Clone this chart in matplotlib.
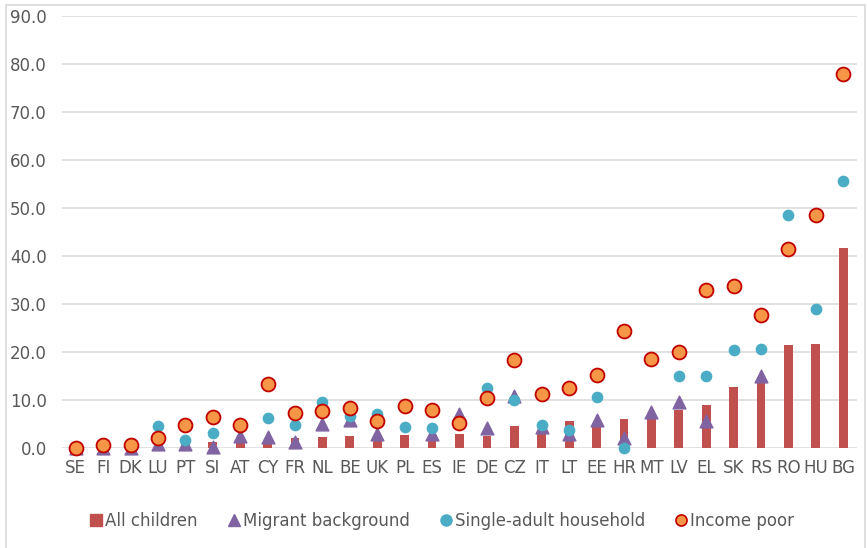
import matplotlib.pyplot as plt
import numpy as np
from matplotlib.lines import Line2D
from matplotlib.patches import Rectangle

nan = np.nan

countries = ["SE", "FI", "DK", "LU", "PT", "SI", "AT", "CY", "FR", "NL",
             "BE", "UK", "PL", "ES", "IE", "DE", "CZ", "IT", "LT", "EE",
             "HR", "MT", "LV", "EL", "SK", "RS", "RO", "HU", "BG"]
all_children = [0.1, 0.1, 0.2, 1.0, 1.0, 1.3, 1.6, 1.1, 2.0, 2.3,
                2.6, 2.0, 2.7, 2.5, 3.0, 2.5, 4.6, 3.3, 5.6, 4.8,
                6.1, 6.3, 7.9, 9.0, 12.7, 14.0, 21.4, 21.7, 41.7]
migrant = [0.0, 0.0, 0.0, 0.8, 0.8, 0.3, 2.6, 2.2, 1.2, 5.1,
           5.8, 2.9, nan, 3.0, 7.1, 4.1, 10.8, 4.4, 3.0, 5.8,
           2.0, 7.6, 9.5, 5.6, nan, 15.0, nan, nan, nan]
single_adult = [0.0, 0.2, 0.2, 4.5, 1.7, 3.2, nan, 6.3, 4.7, 9.6,
                6.7, 7.0, 4.4, 4.1, nan, 12.4, 10.0, 4.8, 3.8, 10.6,
                0.0, nan, 15.0, 15.0, 20.5, 20.7, 48.5, 29.0, 55.6]
income_poor = [0.0, 0.6, 0.6, 2.1, 4.7, 6.45, 4.8, 13.3, 7.2, 7.8,
               8.25, 5.6, 8.7, 7.9, 5.2, 10.5, 18.3, 11.2, 12.4, 15.2,
               24.4, 18.5, 20.1, 32.9, 33.8, 27.8, 41.4, 48.5, 78.0]

plt.rcParams['font.family'] = ['DejaVu Sans']
grey = '#595959'

fig = plt.figure(figsize=(8.67, 5.48), dpi=100)
ax = fig.add_axes([62 / 867, 1 - 448 / 548, 795 / 867, 432 / 548])

x = np.arange(len(countries))
ax.bar(x, all_children, width=0.32, color='#C0504D', zorder=2)
ax.scatter(x, migrant, marker='^', s=85, color='#8064A2', zorder=3, clip_on=False)
ax.scatter(x, single_adult, marker='o', s=55, color='#4BACC6', zorder=4, clip_on=False)
ax.scatter(x, income_poor, marker='o', s=100, color='#F79646',
           edgecolors='#C00000', linewidths=1.3, zorder=5, clip_on=False)

ax.set_xlim(-0.5, len(countries) - 0.5)
ax.set_ylim(0, 90)
ax.set_yticks(np.arange(0, 91, 10))
ax.set_yticklabels(["{:.1f}".format(v) for v in np.arange(0, 91, 10)])
ax.set_xticks(x)
ax.set_xticklabels(countries)
ax.tick_params(axis='both', length=0, labelsize=12, labelcolor=grey)
ax.tick_params(axis='y', pad=11)
ax.tick_params(axis='x', pad=8)
ax.grid(axis='y', color='#D9D9D9', linewidth=1.1, zorder=0)
ax.set_axisbelow(True)
for s in ax.spines.values():
    s.set_visible(False)

handles = [
    Line2D([], [], marker='s', linestyle='', color='#C0504D', markersize=8),
    Line2D([], [], marker='^', linestyle='', color='#8064A2', markersize=8),
    Line2D([], [], marker='o', linestyle='', color='#4BACC6', markersize=8),
    Line2D([], [], marker='o', linestyle='', markerfacecolor='#F79646',
           markeredgecolor='#C00000', markeredgewidth=1.2, markersize=8),
]
labels = ["All children", "Migrant background", "Single-adult household", "Income poor"]
fig.legend(handles, labels, loc='center', bbox_to_anchor=(0.51, 1 - 521 / 548),
           ncol=4, frameon=False, fontsize=12, labelcolor=grey,
           handlelength=0.7, handletextpad=0.2, columnspacing=1.8)

fig.patches.append(Rectangle((6 / 867, -0.05), 859 / 867, 1.05 - 5 / 548,
                             transform=fig.transFigure, fill=False,
                             edgecolor='#D9D9D9', linewidth=1.2))

fig.savefig("out.png", dpi=100)
